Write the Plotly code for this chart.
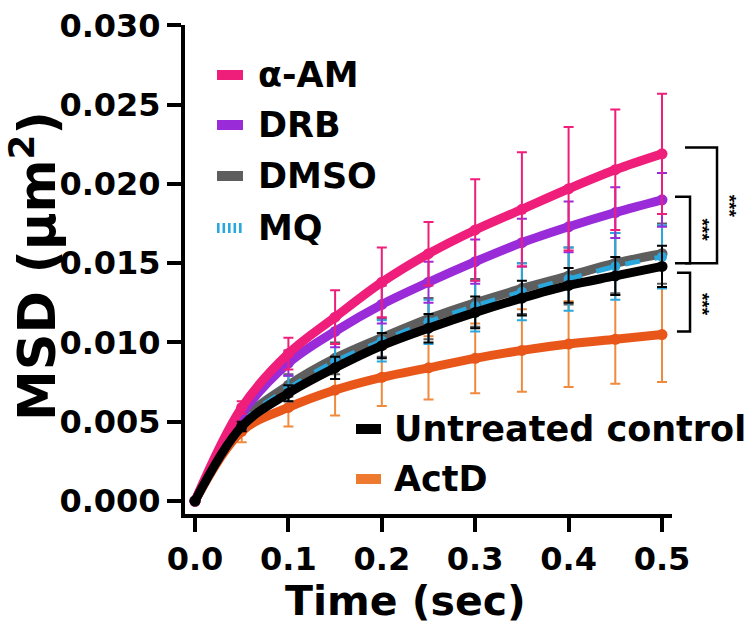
import plotly.graph_objects as go

# ---------------- data ----------------
time_s = [0.0, 0.05, 0.10, 0.15, 0.20, 0.25, 0.30, 0.35, 0.40, 0.45, 0.50]

msd_aam = [0, 0.0059, 0.0093, 0.0116, 0.0138, 0.0156, 0.0171, 0.0184, 0.0197, 0.0209, 0.0219]
err_aam = [0, 0.0004, 0.0010, 0.0017, 0.0022, 0.0020, 0.0032, 0.0036, 0.0039, 0.0038, 0.0038]

msd_drb = [0, 0.0055, 0.0087, 0.0107, 0.0124, 0.0138, 0.0151, 0.0163, 0.0173, 0.0182, 0.0190]
err_drb = [0, 0.0004, 0.0008, 0.0010, 0.0012, 0.0013, 0.0014, 0.0015, 0.0016, 0.0016, 0.0017]

msd_dmso = [0, 0.0050, 0.0073, 0.0090, 0.0103, 0.0115, 0.0125, 0.0134, 0.0142, 0.0150, 0.0156]
err_dmso = [0, 0.0004, 0.0007, 0.0010, 0.0012, 0.0013, 0.0015, 0.0016, 0.0018, 0.0019, 0.0019]

msd_mq = [0, 0.0049, 0.0071, 0.0088, 0.0101, 0.0113, 0.0123, 0.0132, 0.0140, 0.0148, 0.0154]
err_mq = [0, 0.0004, 0.0008, 0.0011, 0.0013, 0.0014, 0.0016, 0.0018, 0.0020, 0.0021, 0.0020]

msd_ctrl = [0, 0.0047, 0.0068, 0.0084, 0.0098, 0.0109, 0.0119, 0.0128, 0.0136, 0.0142, 0.0148]
err_ctrl = [0, 0.0003, 0.0005, 0.0007, 0.0008, 0.0009, 0.0010, 0.0011, 0.0011, 0.0012, 0.0013]

msd_actd = [0, 0.0044, 0.0059, 0.0070, 0.0078, 0.0084, 0.0090, 0.0095, 0.0099, 0.0102, 0.0105]
err_actd = [0, 0.0007, 0.0012, 0.0016, 0.0018, 0.0020, 0.0022, 0.0026, 0.0027, 0.0028, 0.0030]

y_ticks = [0.000, 0.005, 0.010, 0.015, 0.020, 0.025, 0.030]
x_ticks = [0.0, 0.1, 0.2, 0.3, 0.4, 0.5]

legend_top = ["α-AM", "DRB", "DMSO", "MQ"]
legend_bottom = ["Untreated control", "ActD"]

# significance brackets: (y_top, y_bottom, x_inner, x_outer) in data units
brackets = [(0.0223, 0.0150, 0.5246, 0.5589),
            (0.0192, 0.0150, 0.5139, 0.5300),
            (0.0144, 0.0107, 0.5160, 0.5300)]
stars_y = [0.0186, 0.0171, 0.0124]

# ---------------- styles ----------------
C_AAM = "#EE1E7A"
C_DRB = "#9A2BD8"
C_DMSO = "#5E5E5E"
C_MQ = "#2AA8DE"
C_CTRL = "#000000"
C_ACTD = "#E8561A"
C_ACTD_ERR = "#F08A3C"
FONT = "DejaVu Sans"

W, H = 751, 626
L, R, T, B = 185, 79, 25, 112
PW, PH = W - L - R, H - T - B
XR = [-0.0107, 0.5107]
YR = [-0.00082, 0.03003]


def px(x):
    return (x - L) / PW


def py(y):
    return (H - B - y) / PH


def dx(v):  # data x -> paper
    return (v - XR[0]) / (XR[1] - XR[0])


def dy(v):  # data y -> paper
    return (v - YR[0]) / (YR[1] - YR[0])


fig = go.Figure()


def add_series(name, y, err, color, width, ecolor=None, dash="solid", msize=11):
    fig.add_trace(go.Scatter(
        x=time_s, y=y, name=name, mode="lines+markers",
        line=dict(color=color, width=width, shape="spline", dash=dash),
        marker=dict(color=color, size=msize),
        error_y=dict(type="data", array=err, color=ecolor or color,
                     thickness=2, width=5),
        showlegend=False,
    ))


add_series("ActD", msd_actd, err_actd, C_ACTD, 9, ecolor=C_ACTD_ERR)
add_series("DMSO", msd_dmso, err_dmso, C_DMSO, 9)
add_series("MQ", msd_mq, err_mq, C_MQ, 5, dash="dash", msize=10)
add_series("DRB", msd_drb, err_drb, C_DRB, 9)
add_series("α-AM", msd_aam, err_aam, C_AAM, 9)
add_series("Untreated control", msd_ctrl, err_ctrl, C_CTRL, 9)

shapes = []
annotations = []

# brackets + stars (paper coordinates so they are not clipped)
for (yt, yb, xi, xo), ys in zip(brackets, stars_y):
    xi_p, xo_p, yt_p, yb_p = dx(xi), dx(xo), dy(yt), dy(yb)
    shapes.append(dict(type="path", xref="paper", yref="paper",
                       path=f"M {xi_p},{yt_p} L {xo_p},{yt_p} L {xo_p},{yb_p} L {xi_p},{yb_p}",
                       line=dict(color="black", width=2.5)))
    annotations.append(dict(x=xo_p, y=dy(ys), xref="paper", yref="paper", text="***",
                            showarrow=False, textangle=90, xanchor="left",
                            xshift=0,
                            font=dict(family="Liberation Sans", size=19, color="#000000",
                                      weight="bold")))

# legend (top)
top_rows_y = [75, 125, 176, 228]
top_colors = [C_AAM, C_DRB, C_DMSO, None]
for name, yc, col in zip(legend_top, top_rows_y, top_colors):
    if col is not None:
        shapes.append(dict(type="rect", xref="paper", yref="paper",
                           x0=px(217), x1=px(243), y0=py(yc + 5), y1=py(yc - 5),
                           fillcolor=col, line=dict(width=0)))
    else:
        for i in range(5):
            x0 = 217 + i * 5.5
            shapes.append(dict(type="rect", xref="paper", yref="paper",
                               x0=px(x0), x1=px(x0 + 2.6), y0=py(yc + 5), y1=py(yc - 5),
                               fillcolor=C_MQ, line=dict(width=0)))
    annotations.append(dict(x=px(256), y=py(yc), xref="paper", yref="paper",
                            text=name, showarrow=False, xanchor="left", yanchor="middle",
                            font=dict(family=FONT, size=35, color="black", weight="bold")))

# legend (bottom)
bot_rows_y = [429, 479]
bot_colors = [C_CTRL, "#EE7A30"]
for name, yc, col in zip(legend_bottom, bot_rows_y, bot_colors):
    shapes.append(dict(type="rect", xref="paper", yref="paper",
                       x0=px(356), x1=px(381), y0=py(yc + 5), y1=py(yc - 5),
                       fillcolor=col, line=dict(width=0)))
    annotations.append(dict(x=px(392), y=py(yc), xref="paper", yref="paper",
                            text=name, showarrow=False, xanchor="left", yanchor="middle",
                            font=dict(family=FONT, size=35, color="black", weight="bold")))

# axis titles
annotations.append(dict(x=px(405), y=py(601), xref="paper", yref="paper",
                        text="Time (sec)", showarrow=False, xanchor="center", yanchor="middle",
                        font=dict(family=FONT, size=41, color="black", weight="bold")))
annotations.append(dict(x=px(34), y=py(266), xref="paper", yref="paper",
                        text="MSD (μm<sup>2</sup>)", showarrow=False, textangle=-90,
                        xanchor="center", yanchor="middle",
                        font=dict(family=FONT, size=51, color="black", weight="bold")))

axis_common = dict(showline=True, linewidth=4, linecolor="black", ticks="outside",
                   ticklen=14, tickwidth=4, tickcolor="black", showgrid=False,
                   zeroline=False, mirror=False,
                   tickfont=dict(family=FONT, size=32, color="black", weight="bold"))

fig.update_layout(
    width=W, height=H,
    margin=dict(l=L, r=R, t=T, b=B, autoexpand=False),
    paper_bgcolor="white", plot_bgcolor="white",
    xaxis=dict(range=XR, tickvals=x_ticks, tickformat=".1f",
               ticklabelstandoff=0, **axis_common),
    yaxis=dict(range=YR, tickvals=y_ticks, tickformat=".3f",
               ticklabelstandoff=0, **axis_common),
    shapes=shapes,
    annotations=annotations,
    showlegend=False,
)

fig.write_html("out.html", config={"displayModeBar": False},
               post_script="document.body.style.margin='0px';document.body.style.overflow='hidden';")
